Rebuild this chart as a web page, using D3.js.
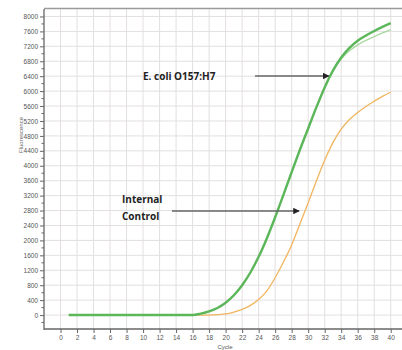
<!DOCTYPE html>
<html><head><meta charset="utf-8">
<script src="https://cdn.jsdelivr.net/npm/d3@7"></script>
<style>body{margin:0;background:#fff}svg{display:block}</style>
</head><body>
<svg id="c" width="402" height="350"></svg>
<script>
const cycles = d3.range(1, 41);
const ecoli = [0,0,0,0,0,0,0,0,0,0,0,0,0,0,0,0,40,100,190,330,530,800,1140,1560,2060,2620,3220,3830,4430,5000,5570,6100,6550,6900,7160,7350,7490,7610,7720,7820];
const ecoli2 = [0,0,0,0,0,0,0,0,0,0,0,0,0,0,0,0,40,100,190,330,530,800,1140,1560,2060,2620,3220,3830,4430,5000,5570,6100,6540,6860,7080,7240,7360,7460,7560,7650];
const control = [0,0,0,0,0,0,0,0,0,0,0,0,0,0,0,0,0,0,10,30,80,150,260,420,650,1000,1420,1880,2440,3010,3600,4150,4620,4980,5240,5430,5590,5730,5860,5970];
const xTicks = d3.range(0, 43, 2);
const xTickLabels = d3.range(0, 41, 2);
const yTicks = d3.range(0, 8001, 400);
const yLabel = "Fluorescence", xLabel = "Cycle";
const label1 = "E. coli O157:H7";
const label2 = ["Internal", "Control"];

const svg = d3.select("#c");
const x = d3.scaleLinear().domain([-2, 43]).range([44, 415.5]);
const y = d3.scaleLinear().domain([-400, 8200]).range([330, 9]);

// grid
const g = svg.append("g");
g.selectAll(".vg").data(xTicks).join("line")
  .attr("x1", d => x(d)).attr("x2", d => x(d)).attr("y1", 9).attr("y2", 329)
  .attr("stroke", "#e3dfdf").attr("stroke-width", 1);
g.selectAll(".hg").data(yTicks).join("line")
  .attr("x1", 44).attr("x2", 402).attr("y1", d => y(d)).attr("y2", d => y(d))
  .attr("stroke", "#e3dfdf").attr("stroke-width", 1);
svg.append("line").attr("x1", 44).attr("x2", 402).attr("y1", 8.5).attr("y2", 8.5)
  .attr("stroke", "#9a9a9a").attr("stroke-width", 1.5);

// axes
const yAxis = d3.axisLeft(y).tickValues(yTicks).tickFormat(d3.format("d")).tickSize(4).tickPadding(2);
const ya = svg.append("g").attr("transform", "translate(44,0)").call(yAxis);
ya.select(".domain").attr("d", `M0,${y(8200)}V330`).attr("stroke", "#666").attr("stroke-width", 1.3);
ya.selectAll(".tick line").attr("stroke", "#666");
ya.selectAll("text").attr("font-family", "Liberation Sans, Arial").attr("font-size", 6.5).attr("fill", "#555");
svg.append("g").attr("transform", "translate(44,0)")
  .selectAll("line").data(d3.range(-200, 8200, 400)).join("line")
  .attr("x1", -2.5).attr("x2", 0).attr("y1", d => y(d)).attr("y2", d => y(d)).attr("stroke", "#666");

const xAxis = d3.axisBottom(x).tickValues(xTicks)
  .tickFormat(d => xTickLabels.includes(d) ? d3.format("d")(d) : "").tickSize(4).tickPadding(2);
const xa = svg.append("g").attr("transform", "translate(0,329)").call(xAxis);
xa.select(".domain").attr("d", `M44,0H402`).attr("stroke", "#666").attr("stroke-width", 1.3);
xa.selectAll(".tick line").attr("stroke", "#666");
xa.selectAll("text").attr("font-family", "Liberation Sans, Arial").attr("font-size", 6.5).attr("fill", "#555");

svg.append("text").attr("x", 225).attr("y", 349).attr("text-anchor", "middle")
  .attr("font-family", "Liberation Sans, Arial").attr("font-size", 6).attr("fill", "#555").text(xLabel);
svg.append("text").attr("transform", "translate(23,135) rotate(-90)").attr("text-anchor", "middle")
  .attr("font-family", "Liberation Sans, Arial").attr("font-size", 6).attr("fill", "#666").text(yLabel);

// lines
const line = d3.line().x((d, i) => x(cycles[i])).y(d => y(d)).curve(d3.curveMonotoneX);
svg.append("path").attr("d", line(control)).attr("fill", "none").attr("stroke", "#f0b55e").attr("stroke-width", 1.3);
svg.append("path").attr("d", line(ecoli2)).attr("fill", "none").attr("stroke", "#a9d9a2").attr("stroke-width", 1.3);
svg.append("path").attr("d", line(ecoli)).attr("fill", "none").attr("stroke", "#5cb65a").attr("stroke-width", 2.4);

// annotations
const defs = svg.append("defs");
defs.append("marker").attr("id", "ah").attr("viewBox", "0 0 10 10").attr("refX", 9).attr("refY", 5)
  .attr("markerWidth", 5).attr("markerHeight", 5).attr("orient", "auto")
  .append("path").attr("d", "M0,0L10,5L0,10z").attr("fill", "#222");

svg.append("text").attr("x", 143).attr("y", 79.5).attr("font-family", "Open Sans, Liberation Sans, Arial")
  .attr("font-weight", "bold").attr("font-size", 10).attr("fill", "#222").text(label1);
svg.append("line").attr("x1", 255).attr("x2", x(32.5)).attr("y1", 76).attr("y2", 76)
  .attr("stroke", "#666").attr("stroke-width", 1.3).attr("marker-end", "url(#ah)");

svg.selectAll(".l2").data(label2).join("text").attr("x", 122).attr("y", (d, i) => 203 + i * 17)
  .attr("font-family", "Open Sans, Liberation Sans, Arial").attr("font-weight", "bold").attr("font-size", 10)
  .attr("fill", "#222").text(d => d);
svg.append("line").attr("x1", 172).attr("x2", x(28.9)).attr("y1", 211).attr("y2", 211)
  .attr("stroke", "#666").attr("stroke-width", 1.3).attr("marker-end", "url(#ah)");
</script>
</body></html>
